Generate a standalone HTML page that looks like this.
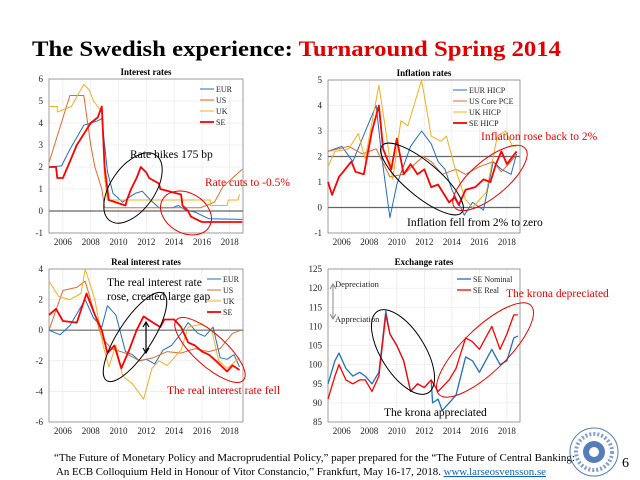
<!DOCTYPE html>
<html><head><meta charset="utf-8"><style>
html,body{margin:0;padding:0;background:#fff;}
svg{display:block;font-family:"Liberation Serif",serif;}
</style></head><body>
<svg id="s" width="640" height="480" viewBox="0 0 640 480" xmlns="http://www.w3.org/2000/svg">
<text x="32" y="56" font-size="22" font-weight="bold" textLength="529" lengthAdjust="spacingAndGlyphs">The Swedish experience: <tspan fill="#e00000">Turnaround Spring 2014</tspan></text>
<g id="charts"></g>
<text x="54" y="461" font-size="10.5" textLength="521" lengthAdjust="spacingAndGlyphs">“The Future of Monetary Policy and Macroprudential Policy,” paper prepared for the “The Future of Central Banking:</text>
<text x="56" y="475" font-size="10.5" textLength="490" lengthAdjust="spacingAndGlyphs">An ECB Colloquium Held in Honour of Vitor Constancio,” Frankfurt, May 16-17, 2018. <tspan fill="#1060c0" text-decoration="underline">www.larseosvensson.se</tspan></text>
<g>
<circle cx="594" cy="452" r="24" fill="none" stroke="#2a5ea8" stroke-width="1" opacity="0.8"/>
<circle cx="594" cy="452" r="18" fill="none" stroke="#2a5ea8" stroke-width="4" stroke-dasharray="2 2" opacity="0.6"/>
<circle cx="594" cy="452" r="11" fill="#2a5ea8" opacity="0.8"/>
<circle cx="594" cy="452" r="5" fill="#fff"/>
</g>
<text x="622" y="467" font-size="14">6</text>
</svg>
<script>
// ---- data ----
const irEURx=[2005,2005.9,2006.5,2007.5,2008.5,2008.8,2009.2,2009.6,2010.3,2010.7,2011.2,2011.7,2012.3,2012.9,2013.9,2014.3,2014.8,2015.5,2016,2016.5,2018.9];
const irEURy=[2.0,2.05,2.8,3.9,4.1,4.2,1.8,0.8,0.4,0.6,0.8,0.9,0.5,0.15,0.15,0.25,0.05,-0.05,-0.2,-0.35,-0.38];
const irUSx=[2005,2006.5,2007.5,2008,2008.3,2008.8,2009,2015.9,2016.9,2017.5,2018.9];
const irUSy=[2.2,5.25,5.25,3.0,2.0,1.0,0.15,0.15,0.4,1.1,1.9];
const irUKx=[2005,2005.6,2005.6,2006.6,2007.5,2007.9,2008.2,2008.8,2009,2009.2,2016.6,2016.6,2017.8,2017.9,2018.6,2018.7];
const irUKy=[4.75,4.75,4.5,4.75,5.75,5.5,5.0,4.5,1.5,0.5,0.5,0.25,0.25,0.5,0.5,0.75];
const irSEx=[2005,2005.5,2005.6,2006,2006.5,2007,2007.5,2008,2008.5,2008.8,2009,2009.3,2010.5,2010.6,2010.9,2011.3,2011.6,2012,2012.2,2012.9,2013,2014.5,2014.6,2015,2015.2,2015.5,2016,2018.9];
const irSEy=[2.0,2.0,1.5,1.5,2.25,3.0,3.5,4.0,4.25,4.75,2.0,0.5,0.25,0.5,1.0,1.5,2.0,1.75,1.5,1.25,1.0,0.75,0.25,0,-0.25,-0.35,-0.5,-0.5];

const inEURx=[2005,2006,2006.8,2007.8,2008.5,2008.9,2009.5,2010,2011,2011.8,2012.5,2013,2013.5,2014,2014.9,2015.5,2016.3,2017,2017.6,2018.3,2018.7];
const inEURy=[2.2,2.4,1.8,3.1,4.0,2.0,-0.4,0.9,2.4,3.0,2.5,1.8,1.5,0.7,-0.3,0.2,-0.1,1.8,1.5,1.3,2.1];
const inUSx=[2005,2006.5,2007.5,2008.5,2009.5,2010.5,2011.9,2012.5,2013.3,2014.3,2015,2016,2017,2017.6,2018.6];
const inUSy=[2.2,2.4,2.1,2.3,1.2,1.3,2.0,1.8,1.3,1.5,1.3,1.6,1.8,1.4,2.0];
const inUKx=[2005,2005.5,2006.5,2007.2,2007.7,2008.7,2009.2,2009.7,2010.3,2010.8,2011.8,2012.5,2013.2,2013.6,2014.2,2015,2015.5,2016.5,2017.3,2017.9,2018.4,2018.7];
const inUKy=[1.6,2.2,2.3,2.9,1.9,4.8,3.0,1.1,3.4,3.2,5.0,2.8,2.6,2.8,1.6,0.3,0,0.6,2.8,3.0,2.4,2.4];
const inSEx=[2005,2005.3,2005.8,2006.7,2007,2007.6,2008.2,2008.7,2009,2009.6,2010,2010.5,2011,2011.5,2012,2012.5,2013,2013.8,2014.2,2014.5,2015,2015.7,2016.3,2016.8,2017.2,2017.6,2018,2018.7];
const inSEy=[1.0,0.5,1.2,1.8,1.4,1.3,3.0,4.0,2.3,1.5,2.7,1.3,1.7,1.3,1.5,0.8,0.9,0.2,0.4,0.1,0.7,0.8,1.1,1.0,1.7,2.2,1.7,2.2];

const rrEURx=[2005,2005.8,2006.5,2007.6,2008.2,2008.8,2009.2,2009.8,2010.5,2011,2011.5,2012,2012.6,2013.2,2013.8,2014.5,2015,2015.7,2016.2,2016.8,2017.3,2017.8,2018.3,2018.7];
const rrEURy=[0,-0.3,0.3,2.0,0.8,0.2,1.6,1.0,-1.4,-1.6,-2.0,-1.9,-2.2,-1.3,-1.0,-0.2,0.5,-0.2,-0.4,0.2,-1.8,-1.9,-1.6,-2.4];
const rrUSx=[2005,2006,2007,2007.6,2008.3,2008.8,2009.5,2010.5,2011.5,2012.5,2013.5,2014.5,2015.5,2016.5,2017.3,2018.2,2018.8];
const rrUSy=[0,2.6,2.8,3.2,1.0,-0.5,-1.2,-1.5,-2.0,-1.8,-1.4,-1.5,-1.2,-1.4,-1.2,-0.2,0.0];
const rrUKx=[2005,2005.7,2006.5,2007.3,2007.6,2008.3,2008.9,2009.3,2009.8,2010.3,2011,2011.8,2012.4,2012.9,2013.5,2014.5,2015,2016,2016.7,2017.2,2017.8,2018.7];
const rrUKy=[3.2,2.2,2.0,2.4,4.0,2.0,-1.0,-2.4,-1.0,-3.0,-3.5,-4.5,-2.5,-2.0,-2.3,-1.3,0.2,0.4,0.0,-2.0,-2.5,-1.8];
const rrSEx=[2005,2005.5,2006,2007,2007.7,2008.3,2008.8,2009.2,2009.7,2010.2,2010.8,2011.3,2011.8,2012.3,2013,2013.3,2014,2014.5,2015,2015.5,2016,2016.5,2017,2017.8,2018.2,2018.7];
const rrSEy=[1.0,1.4,0.6,0.5,2.4,1.0,0.0,-1.5,-1.0,-2.5,-1.2,0.0,0.9,0.6,0.2,0.7,0.7,0.2,-0.8,-1.0,-1.4,-1.6,-2.0,-2.7,-2.3,-2.6];

const fxNomx=[2005,2005.5,2005.8,2006.3,2006.8,2007.3,2007.7,2008.2,2008.7,2009.2,2009.5,2010,2010.5,2011,2011.5,2012,2012.5,2012.6,2013,2013.3,2013.8,2014.3,2015,2015.5,2016,2016.9,2017.5,2018,2018.5,2018.8];
const fxNomy=[95,101,103,99,97,98,97,95,98,114,108,105,101,93,95,94,96,90,91,88,90,92,102,101,98,104,100,101,107,107.5];
const fxRealx=[2005,2005.5,2005.8,2006.3,2006.8,2007.3,2007.7,2008.2,2008.7,2009.2,2009.5,2010,2010.5,2011,2011.5,2012,2012.5,2013,2013.8,2014.3,2015,2015.5,2016,2016.9,2017.5,2018,2018.5,2018.8];
const fxRealy=[91,97,100,96,95,96,96,93,97,113,108,105,101,93,95,94,96,93,96,99,107,106,104,110,104,108,113,113];

const xTicks=[2006,2008,2010,2012,2014,2016,2018];

const NS='http://www.w3.org/2000/svg';
const root=document.getElementById('charts');
function mk(tag,attrs,parent){const e=document.createElementNS(NS,tag);for(const k in attrs)e.setAttribute(k,attrs[k]);(parent||root).appendChild(e);return e;}

function chart(cfg){
  const g=mk('g',{});
  
  
  const L=cfg.L,R=cfg.R,T=cfg.T,B=cfg.B;
  const X=v=>L+(v-2005)*(R-L)/(2018.95-2005);
  const Y=v=>B-(v-cfg.ymin)*(B-T)/(cfg.ymax-cfg.ymin);
  xTicks.forEach(t=>{const l=mk('line',{x1:X(t),x2:X(t),y1:T,y2:B,stroke:'#e6e6e6','stroke-width':0.6},g);});
  cfg.yTicks.forEach(t=>{const l=mk('line',{x1:L,x2:R,y1:Y(t),y2:Y(t),stroke:'#e6e6e6','stroke-width':0.6},g);});
  const fr=mk('rect',{x:L,y:T,width:R-L,height:B-T,fill:'none',stroke:'#777','stroke-width':0.7},g);
  
  xTicks.forEach(t=>{const tx=mk('text',{x:X(t),y:B+12,'font-size':9,'text-anchor':'middle',fill:'#222'},g);tx.textContent=t;});
  cfg.yTicks.forEach(t=>{const tx=mk('text',{x:L-6,y:Y(t)+3,'font-size':9,'text-anchor':'end',fill:'#222'},g);tx.textContent=t;});
  const tt=mk('text',{x:(L+R)/2,y:T-4,'font-size':9,'font-weight':'bold','text-anchor':'middle'},g);tt.textContent=cfg.title;
  
  (cfg.hlines||[]).forEach(h=>{const l=mk('line',{x1:L,x2:R,y1:Y(h),y2:Y(h),stroke:'#666','stroke-width':1.2},g);});
  cfg.series.forEach(s=>{
    const d=s.x.map((v,i)=>(i?'L':'M')+X(v).toFixed(1)+','+Y(s.y[i]).toFixed(1)).join('');
    const p=mk('path',{d:d,fill:'none',stroke:s.c,'stroke-width':s.w,'stroke-linejoin':'round'},g);
    
    
  });
  cfg.series.forEach((s,i)=>{
    const ly=cfg.legY+i*11;
    const ln=mk('line',{x1:cfg.legX,x2:cfg.legX+14,y1:ly,y2:ly,stroke:s.c,'stroke-width':s.w},g);
    
    const tx=mk('text',{x:cfg.legX+16,y:ly+3,'font-size':8,fill:'#222'},g);tx.textContent=s.n;
    
  });
  return g;
}
const cBlue='#1f6fc0',cOr='#e06a30',cYel='#f0b020',cRed='#ff0000';
chart({name:'interest-rates-chart',title:'Interest rates',L:49,R:243,T:79,B:233,ymin:-1,ymax:6,yTicks:[-1,0,1,2,3,4,5,6],hlines:[0],legX:200,legY:89,
 series:[{n:'EUR',x:irEURx,y:irEURy,c:cBlue,w:1},{n:'US',x:irUSx,y:irUSy,c:cOr,w:1},{n:'UK',x:irUKx,y:irUKy,c:cYel,w:1},{n:'SE',x:irSEx,y:irSEy,c:cRed,w:1.8}]});
chart({name:'inflation-rates-chart',title:'Inflation rates',L:328,R:520,T:80,B:233,ymin:-1,ymax:5,yTicks:[-1,0,1,2,3,4,5],hlines:[0,2],legX:453,legY:90,
 series:[{n:'EUR HICP',x:inEURx,y:inEURy,c:cBlue,w:1},{n:'US Core PCE',x:inUSx,y:inUSy,c:cOr,w:1},{n:'UK HICP',x:inUKx,y:inUKy,c:cYel,w:1},{n:'SE HICP',x:inSEx,y:inSEy,c:cRed,w:1.8}]});
chart({name:'real-interest-rates-chart',title:'Real interest rates',L:49,R:243,T:269,B:422,ymin:-6,ymax:4,yTicks:[-6,-4,-2,0,2,4],hlines:[0],legX:207,legY:279,
 series:[{n:'EUR',x:rrEURx,y:rrEURy,c:cBlue,w:1},{n:'US',x:rrUSx,y:rrUSy,c:cOr,w:1},{n:'UK',x:rrUKx,y:rrUKy,c:cYel,w:1},{n:'SE',x:rrSEx,y:rrSEy,c:cRed,w:1.8}]});
chart({name:'exchange-rates-chart',title:'Exchange rates',L:328,R:520,T:269,B:422,ymin:85,ymax:125,yTicks:[85,90,95,100,105,110,115,120,125],hlines:[],legX:457,legY:279,
 series:[{n:'SE Nominal',x:fxNomx,y:fxNomy,c:cBlue,w:1.3},{n:'SE Real',x:fxRealx,y:fxRealy,c:cRed,w:1.3}]});

function ell(name,cx,cy,rx,ry,rot,col){const e=mk('ellipse',{cx:cx,cy:cy,rx:rx,ry:ry,transform:`rotate(${rot} ${cx} ${cy})`,fill:'none',stroke:col,'stroke-width':1});}
function txt(name,x,y,s,col,str){const t=mk('text',{x:x,y:y,'font-size':s,fill:col});t.textContent=str;}
ell('hike-ellipse',133,188,22,40,35,'#000');
ell('cut-ellipse',186,213,27,20,30,'#e00');
txt('hike-annotation',130,158,11.5,'#000','Rate hikes 175 bp');
txt('cut-annotation',205,186,11.5,'#e00','Rate cuts to -0.5%');
ell('inflation-fall-ellipse',422,179,52,17,40,'#000');
ell('inflation-rise-ellipse',490,178,46,18,-40,'#e00');
txt('inflation-rise-annotation',481,140,11.5,'#e00','Inflation rose back to 2%');
txt('inflation-fall-annotation',407,226,11.5,'#000','Inflation fell from 2% to zero');
ell('real-rise-ellipse',135,337,52,17,-57,'#000');
ell('real-fall-ellipse',210,350,45,16,42,'#e00');
txt('real-rise-annotation-1',107,286,11.5,'#000','The real interest rate');
txt('real-rise-annotation-2',107,300,11.5,'#000','rose, created large gap');
txt('real-fall-annotation',167,394,11.5,'#e00','The real interest rate fell');
const ar=mk('path',{d:'M146,323 L146,352 M143,327 L146,322 L149,327 M143,348 L146,353 L149,348',stroke:'#000','stroke-width':1.2,fill:'none'});

ell('appreciation-ellipse',403,352,48,22,58,'#000');
ell('depreciation-ellipse',485,350,64,22,-44,'#e00');
txt('depreciation-annotation',506,297,11.5,'#e00','The krona depreciated');
txt('appreciation-annotation',384,416,11.5,'#000','The krona appreciated');
txt('depreciation-label',335,287,8.5,'#222','Depreciation');
txt('appreciation-label',335,322,8.5,'#222','Appreciation');
const da=mk('path',{d:'M333,285 L333,318 M330,289 L333,284 L336,289 M330,314 L333,319 L336,314',stroke:'#888','stroke-width':1,fill:'none'});

</script>
</body></html>
